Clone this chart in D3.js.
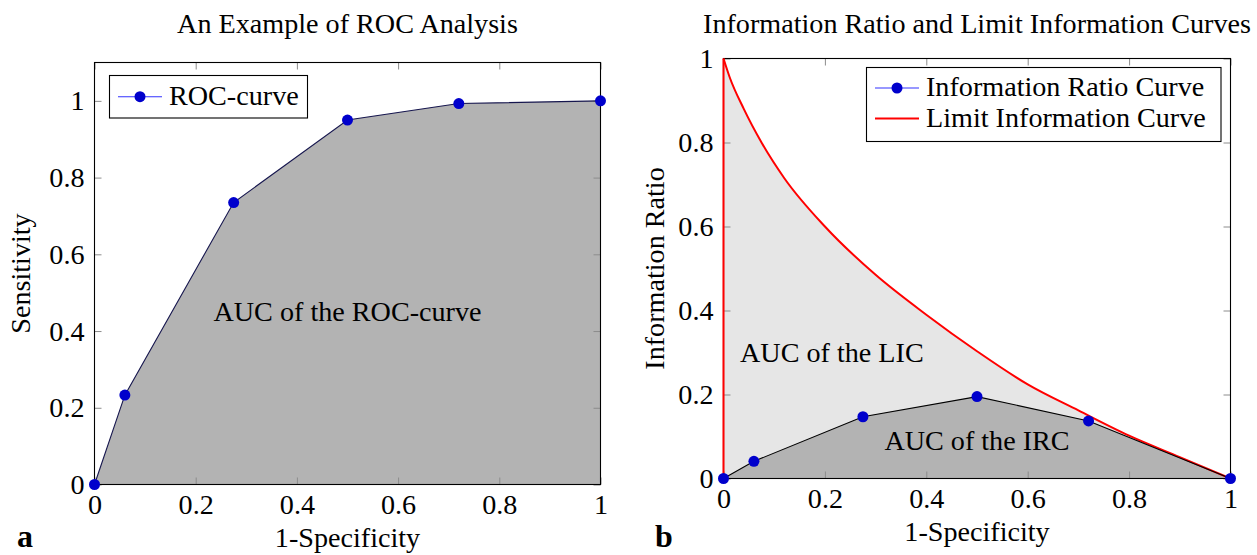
<!DOCTYPE html>
<html>
<head>
<meta charset="utf-8">
<script src="https://cdn.jsdelivr.net/npm/d3@7/dist/d3.min.js"></script>
<style>
  html, body { margin: 0; padding: 0; background: #fff; }
  svg { display: block; }
</style>
</head>
<body>
<svg id="chart" width="1257" height="555"></svg>
<script>
// ---- data ----
const specX   = [0, 0.06, 0.275, 0.5, 0.72, 1];          // 1-Specificity
const rocSens = [0, 0.233, 0.735, 0.95, 0.993, 1];        // ROC sensitivity
const ircVal  = [0, 0.041, 0.147, 0.195, 0.137, 0];       // information ratio curve
const licX = [0, 0.012, 0.04, 0.075, 0.12, 0.2, 0.3, 0.4, 0.5, 0.6, 0.7, 0.8, 0.9, 1];
const licY = [1, 0.956, 0.88, 0.80, 0.715, 0.60, 0.485, 0.39, 0.303, 0.224, 0.162, 0.102, 0.051, 0];
const xTicks = [0, 0.2, 0.4, 0.6, 0.8, 1];
const yTicks = [0, 0.2, 0.4, 0.6, 0.8, 1];
const tickLabels = ["0", "0.2", "0.4", "0.6", "0.8", "1"];

const FAMILY = "'Liberation Serif', 'DejaVu Serif', 'Noto Serif', 'Times New Roman', serif";
const svg = d3.select("#chart");

// pick a font size so the text has the width of the reference
const probe = svg.append("text").attr("font-family", FAMILY).attr("font-size", 100)
  .text("An Example of ROC Analysis");
const probeW = probe.node().getComputedTextLength();
probe.remove();
const FONT = Math.max(20, Math.min(30, 341 / probeW * 100));

function fmt(d) { const i = xTicks.indexOf(d); return i >= 0 ? tickLabels[i] : String(d); }

function txt(g) { return g.append("text").attr("font-family", FAMILY).attr("font-size", FONT).attr("fill", "#000"); }

function drawFrame(g, x, y) {
  const [x0, x1] = x.range();
  const [yb, yt] = y.range();
  const tick = 7;
  const ab = g.append("g").attr("transform", `translate(0,${yb})`)
    .call(d3.axisBottom(x).tickValues(xTicks).tickFormat(fmt).tickSizeInner(-tick).tickSizeOuter(0).tickPadding(10));
  const al = g.append("g").attr("transform", `translate(${x0},0)`)
    .call(d3.axisLeft(y).tickValues(yTicks).tickFormat(fmt).tickSizeInner(-tick).tickSizeOuter(0).tickPadding(10));
  const at = g.append("g").attr("transform", `translate(0,${yt})`)
    .call(d3.axisTop(x).tickValues(xTicks).tickFormat("").tickSizeInner(-tick).tickSizeOuter(0));
  const ar = g.append("g").attr("transform", `translate(${x1},0)`)
    .call(d3.axisRight(y).tickValues(yTicks).tickFormat("").tickSizeInner(-tick).tickSizeOuter(0));
  [ab, al, at, ar].forEach(a => {
    a.select(".domain").remove();
    a.selectAll(".tick line").attr("stroke", "#8c8c8c").attr("stroke-width", 1);
    a.attr("font-size", FONT).attr("font-family", FAMILY);
    a.selectAll("text").attr("fill", "#000");
  });
  g.append("rect")
    .attr("x", x0).attr("y", yt).attr("width", x1 - x0).attr("height", yb - yt)
    .attr("fill", "none").attr("stroke", "#000").attr("stroke-width", 1.1);
}

// ================= Panel a =================
{
  const g = svg.append("g");
  const x = d3.scaleLinear().domain([0, 1]).range([94.5, 600.5]);
  const y = d3.scaleLinear().domain([0, 1.1]).range([484.5, 62.5]);
  const pts = specX.map((d, i) => [d, rocSens[i]]);

  g.append("path").datum(pts)
    .attr("d", d3.area().x(d => x(d[0])).y0(y(0)).y1(d => y(d[1])))
    .attr("fill", "#b3b3b3");

  drawFrame(g, x, y);

  g.append("path").datum(pts)
    .attr("d", d3.line().x(d => x(d[0])).y(d => y(d[1])))
    .attr("fill", "none").attr("stroke", "#16164e").attr("stroke-width", 1.1);

  g.selectAll("circle.m").data(pts).enter().append("circle")
    .attr("cx", d => x(d[0])).attr("cy", d => y(d[1])).attr("r", 5.5)
    .attr("fill", "#0000cc");

  txt(g).attr("x", (x(0) + x(1)) / 2).attr("y", 321).attr("text-anchor", "middle")
    .text("AUC of the ROC-curve");

  // legend
  const lg = g.append("g");
  lg.append("rect").attr("x", 109.5).attr("y", 75.5).attr("width", 198).attr("height", 42.5)
    .attr("fill", "#fff").attr("stroke", "#000").attr("stroke-width", 1.1);
  lg.append("line").attr("x1", 118).attr("x2", 162).attr("y1", 96.7).attr("y2", 96.7)
    .attr("stroke", "#3333ff").attr("stroke-width", 1.1);
  lg.append("circle").attr("cx", 140).attr("cy", 96.7).attr("r", 5.5).attr("fill", "#0000cc");
  txt(lg).attr("x", 169).attr("y", 105).text("ROC-curve");

  // titles and labels
  txt(g).attr("x", (x(0) + x(1)) / 2).attr("y", 33).attr("text-anchor", "middle")
    .text("An Example of ROC Analysis");
  txt(g).attr("x", (x(0) + x(1)) / 2).attr("y", 546.5).attr("text-anchor", "middle")
    .text("1-Specificity");
  txt(g).attr("transform", `translate(30,${(y(0) + y(1.1)) / 2}) rotate(-90)`)
    .attr("text-anchor", "middle").text("Sensitivity");
  txt(g).attr("x", 17).attr("y", 547).attr("font-size", 32).attr("font-weight", "bold").text("a");
}

// ================= Panel b =================
{
  const g = svg.append("g");
  const x = d3.scaleLinear().domain([0, 1]).range([723.5, 1230.5]);
  const y = d3.scaleLinear().domain([0, 1]).range([478.5, 58.5]);
  const lic = licX.map((d, i) => [d, licY[i]]);
  const irc = specX.map((d, i) => [d, ircVal[i]]);

  g.append("path").datum(lic)
    .attr("d", d3.area().curve(d3.curveMonotoneX).x(d => x(d[0])).y0(y(0)).y1(d => y(d[1])))
    .attr("fill", "#e6e6e6");
  g.append("path").datum(irc)
    .attr("d", d3.area().x(d => x(d[0])).y0(y(0)).y1(d => y(d[1])))
    .attr("fill", "#b3b3b3");

  drawFrame(g, x, y);

  // limit information curve (with vertical segment at x = 0)
  g.append("line").attr("x1", x(0)).attr("x2", x(0)).attr("y1", y(0)).attr("y2", y(licY[0]))
    .attr("stroke", "#ff0000").attr("stroke-width", 2);
  g.append("path").datum(lic)
    .attr("d", d3.line().curve(d3.curveMonotoneX).x(d => x(d[0])).y(d => y(d[1])))
    .attr("fill", "none").attr("stroke", "#ff0000").attr("stroke-width", 2);

  g.append("path").datum(irc)
    .attr("d", d3.line().x(d => x(d[0])).y(d => y(d[1])))
    .attr("fill", "none").attr("stroke", "#000").attr("stroke-width", 1.1);
  g.selectAll("circle.m").data(irc).enter().append("circle")
    .attr("cx", d => x(d[0])).attr("cy", d => y(d[1])).attr("r", 5.5)
    .attr("fill", "#0000cc");

  txt(g).attr("x", 740).attr("y", 362).text("AUC of the LIC");
  txt(g).attr("x", x(0.5)).attr("y", 450).attr("text-anchor", "middle").text("AUC of the IRC");

  // legend
  const lg = g.append("g");
  lg.append("rect").attr("x", 866.5).attr("y", 67.5).attr("width", 354.5).attr("height", 74)
    .attr("fill", "#fff").attr("stroke", "#000").attr("stroke-width", 1.1);
  lg.append("line").attr("x1", 875).attr("x2", 919).attr("y1", 88).attr("y2", 88)
    .attr("stroke", "#3333ff").attr("stroke-width", 1.1);
  lg.append("circle").attr("cx", 897).attr("cy", 88).attr("r", 5.5).attr("fill", "#0000cc");
  txt(lg).attr("x", 926).attr("y", 96).text("Information Ratio Curve");
  lg.append("line").attr("x1", 875).attr("x2", 919).attr("y1", 118.5).attr("y2", 118.5)
    .attr("stroke", "#ff0000").attr("stroke-width", 2);
  txt(lg).attr("x", 926).attr("y", 126.5).text("Limit Information Curve");

  txt(g).attr("x", (x(0) + x(1)) / 2).attr("y", 33).attr("text-anchor", "middle")
    .text("Information Ratio and Limit Information Curves");
  txt(g).attr("x", (x(0) + x(1)) / 2).attr("y", 540.5).attr("text-anchor", "middle")
    .text("1-Specificity");
  txt(g).attr("transform", `translate(664,${(y(0) + y(1)) / 2}) rotate(-90)`)
    .attr("text-anchor", "middle").text("Information Ratio");
  txt(g).attr("x", 655).attr("y", 547).attr("font-size", 32).attr("font-weight", "bold").text("b");
}
</script>
</body>
</html>
